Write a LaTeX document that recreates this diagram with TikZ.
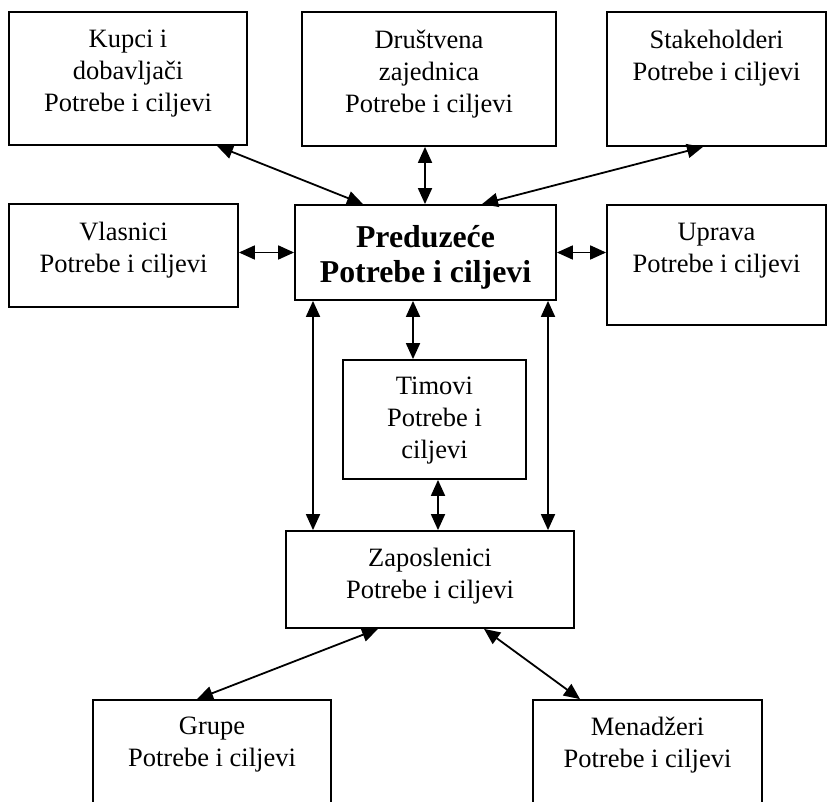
\documentclass[tikz,border=0pt]{standalone}
\usepackage{fontspec}
\setmainfont{Liberation Serif}
\usepackage{tikz}
\usetikzlibrary{positioning,arrows.meta}

\tikzset{
	okvir/.style={draw=black, line width=1.8pt, rectangle, inner sep=0pt},
	tekst/.style={align=center, inner sep=0pt, font=\fontsize{26.5pt}{32pt}\selectfont},
	tekstb/.style={align=center, inner sep=0pt, font=\fontsize{31.8pt}{35pt}\selectfont\bfseries},
	veza/.style={{Triangle[length=16pt,width=14pt]}-{Triangle[length=16pt,width=14pt]}, line width=1.8pt}
}

\begin{document}
\begin{tikzpicture}[x=1pt,y=1pt]
		\useasboundingbox (0,0) rectangle (834,801);
		\clip (0,0) rectangle (834,801);

		%top row
		\node[okvir, minimum width=238pt, minimum height=133pt] (kupci) at (128,722.5) {};
		\node[okvir, minimum width=254pt, minimum height=134pt] (drustvo) at (429,722) {};
		\node[okvir, minimum width=219pt, minimum height=134pt] (stake) at (716.5,722) {};
		\node[tekst, below=19pt of kupci.north] (kupci-t) {Kupci i\\dobavljači\\Potrebe i ciljevi};
		\node[tekst, below=19pt of drustvo.north] (drustvo-t) {Društvena\\zajednica\\Potrebe i ciljevi};
		\node[tekst, below=19pt of stake.north] (stake-t) {Stakeholderi\\Potrebe i ciljevi};

		%middle row
		\node[okvir, minimum width=229pt, minimum height=103pt] (vlasnici) at (123.5,545.5) {};
		\node[okvir, minimum width=261pt, minimum height=95pt] (preduzece) at (425.5,548.5) {};
		\node[okvir, minimum width=219pt, minimum height=120pt] (uprava) at (716.5,536) {};
		\node[tekst, below=19pt of vlasnici.north] (vlasnici-t) {Vlasnici\\Potrebe i ciljevi};
		\node[tekstb, below=21pt of preduzece.north] (preduzece-t) {Preduzeće\\Potrebe i ciljevi};
		\node[tekst, below=19pt of uprava.north] (uprava-t) {Uprava\\Potrebe i ciljevi};

		%teams and employees
		\node[okvir, minimum width=183pt, minimum height=119pt] (timovi) at (434.5,381.5) {};
		\node[okvir, minimum width=288pt, minimum height=97pt] (zaposleni) at (430,221.5) {};
		\node[tekst, below=18pt of timovi.north] (timovi-t) {Timovi\\Potrebe i\\ciljevi};
		\node[tekst, below=18pt of zaposleni.north] (zaposleni-t) {Zaposlenici\\Potrebe i ciljevi};

		%bottom row
		\node[okvir, minimum width=238pt, minimum height=140pt] (grupe) at (212,31) {};
		\node[okvir, minimum width=229pt, minimum height=140pt] (menadzeri) at (647.5,31) {};
		\node[tekst, below=18pt of grupe.north] (grupe-t) {Grupe\\Potrebe i ciljevi};
		\node[tekst, below=18pt of menadzeri.north] (menadzeri-t) {Menadžeri\\Potrebe i ciljevi};

		%edges
		\draw[veza] ([xshift=89pt]kupci.south) -- ([xshift=-62.5pt]preduzece.north);
		\draw[veza] ([xshift=-4pt]drustvo.south) -- ([xshift=-4pt]drustvo.south |- preduzece.north);
		\draw[veza] ([xshift=-13.5pt]stake.south) -- ([xshift=56.5pt]preduzece.north);
		\draw[veza] (vlasnici.east |- preduzece.west) -- (preduzece.west);
		\draw[veza] (preduzece.east) -- (uprava.west |- preduzece.east);
		\draw[veza] ([xshift=-112.5pt]preduzece.south) -- ([xshift=-112.5pt]preduzece.south |- zaposleni.north);
		\draw[veza] ([xshift=-12.5pt]preduzece.south) -- ([xshift=-12.5pt]preduzece.south |- timovi.north);
		\draw[veza] ([xshift=122.5pt]preduzece.south) -- ([xshift=122.5pt]preduzece.south |- zaposleni.north);
		\draw[veza] ([xshift=3.5pt]timovi.south) -- ([xshift=3.5pt]timovi.south |- zaposleni.north);
		\draw[veza] ([xshift=-52pt]zaposleni.south) -- ([xshift=-15pt]grupe.north);
		\draw[veza] ([xshift=54pt]zaposleni.south) -- ([xshift=-67.5pt]menadzeri.north);

\end{tikzpicture}
\end{document}
